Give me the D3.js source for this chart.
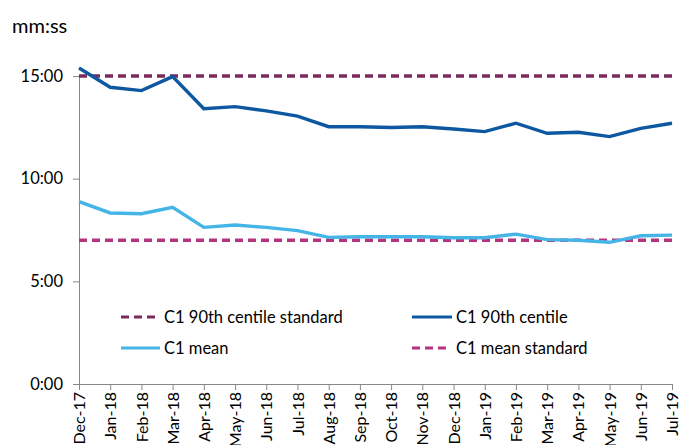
<!DOCTYPE html>
<html><head><meta charset="utf-8">
<script src="https://cdn.jsdelivr.net/npm/d3@7"></script>
<style>body{margin:0;background:#fff;} text{font-family:Lato, "Open Sans", sans-serif;}</style>
</head><body>
<svg id="c" width="683" height="445"></svg>
<script>
const months = ["Dec-17","Jan-18","Feb-18","Mar-18","Apr-18","May-18","Jun-18","Jul-18","Aug-18","Sep-18","Oct-18","Nov-18","Dec-18","Jan-19","Feb-19","Mar-19","Apr-19","May-19","Jun-19","Jul-19"];
// values in minutes
const centile90 = [15.39,14.45,14.29,14.97,13.41,13.51,13.3,13.05,12.53,12.53,12.49,12.53,12.42,12.29,12.7,12.21,12.26,12.05,12.45,12.7];
const meanVals = [8.88,8.33,8.29,8.6,7.63,7.74,7.63,7.47,7.14,7.17,7.17,7.17,7.12,7.12,7.3,7.03,7.0,6.9,7.22,7.25];
const centileStd = months.map(() => 15);
const meanStd = months.map(() => 7);
const yTicks = [0,5,10,15];
const yTickLabels = ["0:00","5:00","10:00","15:00"];

const svg = d3.select("#c");
const x = d3.scalePoint().domain(months).range([79, 672]);
const y = d3.scaleLinear().domain([0, 15]).range([384, 76]);

svg.append("text").attr("x", 12).attr("y", 33).attr("font-size", 20).attr("fill", "#000").text("mm:ss");

const yAxis = d3.axisLeft(y).tickValues(yTicks).tickFormat((d,i) => yTickLabels[i]).tickSize(6).tickPadding(10);
const gy = svg.append("g").attr("transform", "translate(79,0)").call(yAxis);
gy.select(".domain").attr("stroke", "#888").attr("d", "M-6,76.5H0.5V384");
gy.selectAll(".tick line").attr("stroke", "#888");
gy.selectAll(".tick text").attr("font-size", 16.5).attr("fill", "#000").attr("font-family", "Lato, sans-serif");

const xAxis = d3.axisBottom(x).tickSize(6).tickSizeOuter(0).tickPadding(4);
const gx = svg.append("g").attr("transform", "translate(0,384)").call(xAxis);
gx.select(".domain").attr("stroke", "#888");
gx.selectAll(".tick line").attr("stroke", "#888");
gx.selectAll(".tick text")
  .attr("font-size", 16).attr("fill", "#000").attr("font-family", "Lato, sans-serif")
  .attr("transform", "rotate(-90)")
  .attr("text-anchor", "end").attr("x", -8).attr("y", 0).attr("dy", "0.35em");

const line = d3.line().x((d,i) => x(months[i])).y(d => y(d));

const series = [
  {vals: centileStd, color: "#7b2a5c", dash: "8,5", w: 3.4},
  {vals: meanStd, color: "#b3347f", dash: "8,5", w: 3.4},
  {vals: centile90, color: "#0d58a1", dash: null, w: 3.4},
  {vals: meanVals, color: "#45b5e8", dash: null, w: 3.4}
];
series.forEach(s => {
  svg.append("path").datum(s.vals).attr("d", line).attr("fill", "none")
    .attr("stroke", s.color).attr("stroke-width", s.w)
    .attr("stroke-dasharray", s.dash);
});

const legend = [
  {label: "C1 90th centile standard", color: "#7b2a5c", dash: "8,5", x1: 121, x2: 157, tx: 164, y: 317},
  {label: "C1 90th centile", color: "#0d58a1", dash: null, x1: 412, x2: 452, tx: 456, y: 317},
  {label: "C1 mean", color: "#45b5e8", dash: null, x1: 121, x2: 160, tx: 164, y: 348},
  {label: "C1 mean standard", color: "#b3347f", dash: "8,5", x1: 412, x2: 448, tx: 456, y: 348}
];
const lg = svg.append("g");
legend.forEach(l => {
  lg.append("line").attr("x1", l.x1).attr("x2", l.x2).attr("y1", l.y).attr("y2", l.y)
    .attr("stroke", l.color).attr("stroke-width", 3.2).attr("stroke-dasharray", l.dash);
  lg.append("text").attr("x", l.tx).attr("y", l.y).attr("dy", "0.35em")
    .attr("font-size", 16.5).attr("fill", "#000").text(l.label);
});
</script>
</body></html>
